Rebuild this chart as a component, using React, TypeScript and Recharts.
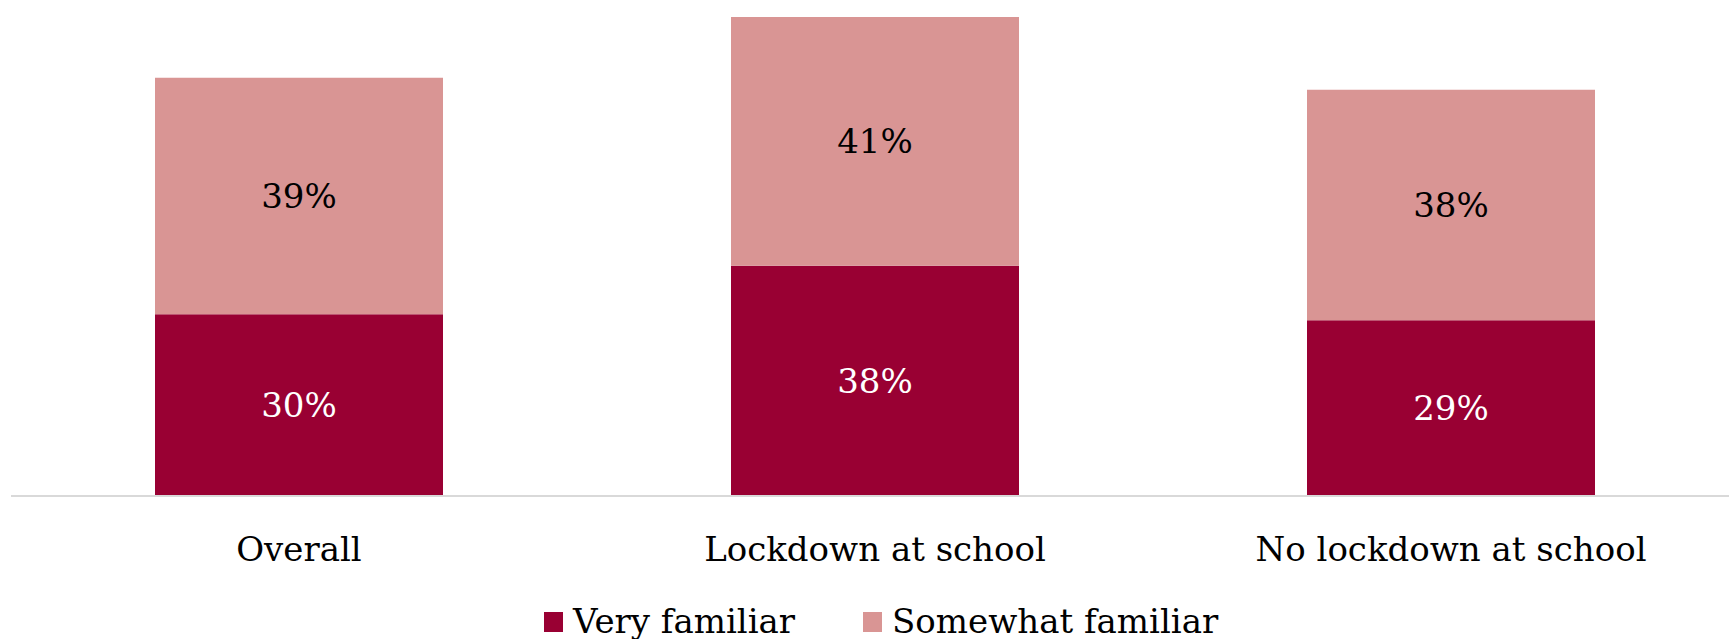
import { BarChart, Bar, XAxis, YAxis, LabelList, Legend } from 'recharts'

const categories = ['Overall', 'Lockdown at school', 'No lockdown at school']
const veryFamiliar = [30, 38, 29]
const somewhatFamiliar = [39, 41, 38]

const DARK = '#990033'
const LIGHT = '#D99594'
const FONT = '"DejaVu Serif", serif'

const data = categories.map((name, i) => ({
  name,
  very: veryFamiliar[i],
  somewhat: somewhatFamiliar[i],
}))

const legendItems = [
  { label: 'Very familiar', color: DARK },
  { label: 'Somewhat familiar', color: LIGHT },
]

// legend wrapper already sits at margin.left, so padding is relative to that
function ChartLegend() {
  return (
    <div
      style={{
        display: 'flex',
        alignItems: 'center',
        paddingLeft: 533,
        height: 35,
        fontFamily: FONT,
        fontSize: 34,
        lineHeight: '35px',
        color: '#000',
      }}
    >
      {legendItems.map((item, i) => (
        <div
          key={item.label}
          style={{ display: 'flex', alignItems: 'center', marginRight: i === 0 ? 68 : 0 }}
        >
          <span
            style={{ width: 19, height: 20, background: item.color, marginRight: 10, display: 'inline-block' }}
          />
          <span>{item.label}</span>
        </div>
      ))}
    </div>
  )
}

export default function App() {
  const fmt = (v: number) => `${v}%`
  return (
    <div style={{ position: 'absolute', left: 0, top: 0, width: 1729, height: 639, background: '#fff' }}>
      <BarChart
        width={1729}
        height={639}
        data={data}
        margin={{ top: 11, right: -10, left: 11, bottom: 0 }}
        barCategoryGap="25%"
      >
        <YAxis hide domain={[0, 80]} />
        <XAxis
          dataKey="name"
          height={108}
          tickLine={false}
          tickMargin={35}
          axisLine={{ stroke: '#D9D9D9', strokeWidth: 2 }}
          tick={{ fill: '#000', fontSize: 34, fontFamily: FONT }}
          interval={0}
        />
        <Legend verticalAlign="bottom" content={() => <ChartLegend />} />
        <Bar dataKey="very" stackId="a" fill={DARK} isAnimationActive={false}>
          <LabelList
            dataKey="very"
            position="center"
            formatter={fmt}
            fill="#fff"
            fontSize={34}
            fontFamily={FONT}
          />
        </Bar>
        <Bar dataKey="somewhat" stackId="a" fill={LIGHT} isAnimationActive={false}>
          <LabelList
            dataKey="somewhat"
            position="center"
            formatter={fmt}
            fill="#000"
            fontSize={34}
            fontFamily={FONT}
          />
        </Bar>
      </BarChart>
    </div>
  )
}
